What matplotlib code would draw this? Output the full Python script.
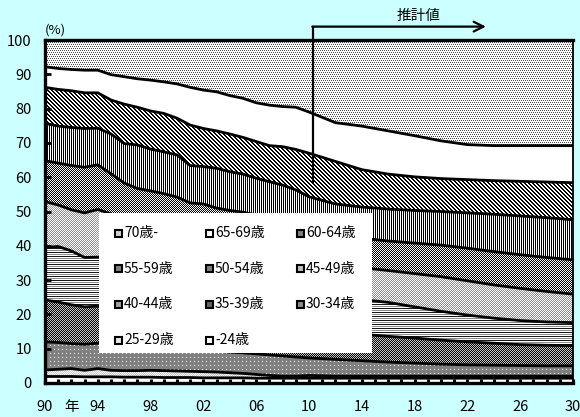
import numpy as np
import matplotlib
matplotlib.use("Agg")
import matplotlib.pyplot as plt
from matplotlib.patches import Polygon, Rectangle

plt.rcParams["font.family"] = ["Noto Sans CJK JP", "DejaVu Sans"]

# ---- data: cumulative share (%) of workers at or below each age band ----
years = list(range(1990, 2011)) + list(range(2012, 2031, 2))

upto_24 = [1.9, 1.9, 1.9, 1.8, 1.8, 1.8, 1.7, 1.7, 1.7, 1.6, 1.6, 1.6, 1.5, 1.5, 1.5,
           1.5, 1.4, 1.4, 1.4, 1.4, 1.4,
           1.4, 1.4, 1.4, 1.4, 1.4, 1.4, 1.4, 1.4, 1.4, 1.4]
upto_29 = [3.8, 4.0, 4.2, 3.7, 4.2, 3.7, 3.6, 3.6, 3.7, 3.6, 3.5, 3.4, 3.3, 3.2, 3.0,
           2.8, 2.5, 2.2, 2.0, 2.0, 2.2,
           2.0, 2.0, 2.0, 2.0, 2.0, 2.0, 2.0, 2.0, 2.0, 2.0]
upto_34 = [12.0, 11.8, 11.5, 11.3, 11.6, 11.4, 11.2, 11.0, 10.7, 10.5, 10.2, 9.9, 9.6, 9.3, 9.0,
           8.8, 8.5, 8.2, 7.9, 7.6, 7.3,
           6.9, 6.5, 6.1, 5.8, 5.5, 5.3, 5.2, 5.1, 5.0, 5.0]
upto_39 = [24.2, 23.6, 22.8, 22.2, 22.4, 22.0, 21.6, 21.2, 20.8, 20.4, 20.0, 19.6, 19.2, 18.8, 18.4,
           18.0, 17.5, 17.1, 16.7, 16.3, 15.9,
           15.0, 14.2, 13.6, 13.1, 12.5, 12.0, 11.6, 11.2, 11.0, 10.9]
upto_44 = [39.5, 39.8, 38.5, 36.6, 36.7, 36.0, 35.1, 34.2, 33.4, 32.6, 31.8, 31.0, 30.2, 29.5, 28.8,
           28.1, 27.5, 26.9, 26.3, 25.8, 25.3,
           24.8, 24.3, 23.5, 22.2, 20.9, 19.8, 18.9, 18.2, 17.8, 17.6]
upto_49 = [52.9, 51.9, 50.5, 49.6, 50.6, 49.3, 48.0, 47.0, 46.0, 45.1, 44.2, 43.2, 42.3, 41.4, 40.5,
           39.6, 38.8, 38.0, 37.2, 36.5, 35.8,
           34.6, 33.6, 32.8, 31.9, 31.0, 29.8, 28.6, 27.6, 26.7, 25.9]
upto_54 = [64.8, 64.1, 63.4, 62.9, 63.6, 61.0, 58.3, 56.7, 56.0, 55.2, 54.2, 52.5, 52.2, 51.0, 50.3,
           49.8, 49.0, 48.0, 47.2, 46.3, 45.3,
           43.6, 42.2, 41.4, 40.8, 40.2, 39.3, 38.3, 37.4, 36.6, 35.9]
upto_59 = [75.7, 74.9, 74.5, 74.2, 74.3, 72.6, 69.8, 69.4, 68.2, 67.4, 66.5, 63.4, 63.1, 62.6, 61.6,
           60.9, 59.7, 58.7, 57.7, 56.3, 54.3,
           52.2, 51.3, 50.7, 50.3, 50.0, 49.6, 49.2, 48.7, 48.2, 47.6]
upto_64 = [86.2, 85.6, 85.2, 84.6, 84.6, 82.5, 81.3, 80.4, 79.3, 78.6, 77.2, 75.2, 74.2, 73.5, 72.6,
           71.6, 70.4, 69.2, 68.9, 68.1, 67.0,
           64.6, 62.2, 60.9, 60.1, 59.6, 59.3, 59.0, 58.8, 58.6, 58.4]
upto_69 = [92.2, 91.7, 91.4, 91.2, 91.2, 89.9, 89.3, 88.7, 88.3, 87.8, 87.2, 86.2, 85.4, 84.9, 83.8,
           83.0, 81.7, 81.0, 80.6, 80.4, 79.0,
           75.9, 74.9, 73.5, 72.1, 70.6, 69.5, 69.2, 69.2, 69.2, 69.2]

age_labels = ["-24歳", "25-29歳", "30-34歳", "35-39歳", "40-44歳", "45-49歳",
              "50-54歳", "55-59歳", "60-64歳", "65-69歳", "70歳-"]

tick_years = [1990, 1992, 1994, 1998, 2002, 2006, 2010, 2014, 2018, 2022, 2026, 2030]
tick_texts = ["90", "年", "94", "98", "02", "06", "10", "14", "18", "22", "26", "30"]

projection_start = 2010.3

# ---- figure / axes geometry (pixels) ----
W, H = 580, 417
AX_L, AX_B, AX_W, AX_H = 45, 34, 528, 343
BG = "#CCFFFF"

fig = plt.figure(figsize=(W / 100, H / 100), dpi=100, facecolor=BG)
ax = fig.add_axes([AX_L / W, AX_B / H, AX_W / W, AX_H / H])
ax.patch.set_visible(False)
ax.set_xlim(1990, 2030)
ax.set_ylim(0, 100)

# ---- monochrome fill patterns, one array cell per screen pixel ----
yy, xx = np.mgrid[0:AX_H, 0:AX_W]


def pattern(kind):
    p = np.ones((AX_H, AX_W))
    if kind == "stipple":            # sparse dark dots
        p[(yy % 2 == 0) & (xx % 2 == (yy // 2) % 2)] = 0.3
    elif kind == "white":
        pass
    elif kind == "diag":
        p[((xx - yy) % 4) < 2] = 0.0
    elif kind == "vert":
        p[xx % 2 == 0] = 0.0
    elif kind == "checker_dark":
        p[(xx + yy) % 2 == 0] = 0.0
    elif kind == "checker_light":
        p[(xx + yy) % 2 == 0] = 0.55
    elif kind == "horiz":
        rows = np.array([0.1, 1.0, 0.55, 1.0])
        p = rows[yy % 4]
    elif kind == "checker_mid":
        p[:] = 0.78
        p[(xx + yy) % 2 == 0] = 0.0
    elif kind == "gray_dots":
        p[:] = 0.5
        p[(yy % 4 == 1) & (xx % 4 == 1)] = 1.0
    elif kind == "fine_light":
        p[(xx + yy) % 2 == 0] = 0.78
    return p


layer_patterns = ["white", "fine_light", "gray_dots", "checker_mid", "horiz",
                  "checker_light", "checker_dark", "vert", "diag", "white", "stipple"]

bounds = [np.zeros(len(years)), upto_24, upto_29, upto_34, upto_39, upto_44,
          upto_49, upto_54, upto_59, upto_64, upto_69, np.full(len(years), 100.0)]
bounds = [np.asarray(b, dtype=float) for b in bounds]
yrs = np.asarray(years, dtype=float)

# white under everything inside the plot frame
fig.figimage(np.ones((AX_H, AX_W)), xo=AX_L, yo=AX_B, cmap="gray",
             vmin=0, vmax=1, zorder=-3)
for i, kind in enumerate(layer_patterns):
    lo, hi = bounds[i], bounds[i + 1]
    verts = np.column_stack([np.concatenate([yrs, yrs[::-1]]),
                             np.concatenate([hi, lo[::-1]])])
    clip = Polygon(verts, closed=True, transform=ax.transData)
    im = fig.figimage(pattern(kind), xo=AX_L, yo=AX_B, origin="upper",
                      cmap="gray", vmin=0, vmax=1, zorder=-2)
    im.set_clip_path(clip)

# boundary lines between age bands
for b in bounds[1:-1]:
    ax.plot(yrs, b, color="black", lw=2.0, solid_joinstyle="round", zorder=3)

# ---- axes frame and ticks ----
for side in ("left", "bottom", "top"):
    ax.spines[side].set_linewidth(2.4)
ax.spines["right"].set_linewidth(1.3)

ax.set_yticks(range(0, 101, 10))
ax.tick_params(axis="y", direction="in", length=4, width=2, pad=9.5,
               labelsize=10.5)
ax.set_xticks(range(1990, 2031))
xt = ["" for _ in range(1990, 2031)]
for yv, tx in zip(tick_years, tick_texts):
    xt[yv - 1990] = tx
ax.set_xticklabels(xt)
ax.tick_params(axis="x", direction="in", length=3, width=2.2, pad=12,
               labelsize=10.5)

ax.text(0.0, 1.03, "(%)", transform=ax.transAxes, fontsize=9.5,
        ha="left", va="center")

# ---- projection marker ----
ax.plot([projection_start, projection_start], [58.7, 103.9], color="black",
        lw=1.6, clip_on=False, zorder=4)
ax.annotate("", xy=(2023.4, 103.9), xytext=(projection_start - 0.05, 103.9),
            arrowprops=dict(arrowstyle="->,head_length=0.7,head_width=0.35",
                            lw=1.6, color="black", shrinkA=0, shrinkB=0),
            annotation_clip=False, zorder=4)
ax.text(2018.3, 107.0, "推計値", fontsize=10.5, ha="center", va="center",
        clip_on=False)


# ---- legend box ----
def ax_x(px):
    return (px - AX_L) / AX_W


def frac_y(py):
    return (AX_B + AX_H - (H - py)) / AX_H if False else (383 - py) / AX_H


ax.add_patch(Rectangle((ax_x(99), frac_y(353)), ax_x(372) - ax_x(99),
                       frac_y(213) - frac_y(353), transform=ax.transAxes,
                       facecolor="white", edgecolor="none", zorder=5))

icon_mean = {"white": "white", "fine_light": "#e8e8e8", "gray_dots": "#8a8a8a",
             "checker_mid": "#636363", "horiz": "#a0a0a0", "checker_light": "#c0c0c0",
             "checker_dark": "#7f7f7f", "vert": "#808080", "diag": "#808080",
             "stipple": "#d0d0d0"}

legend_order = list(range(len(age_labels)))[::-1]
for k, idx in enumerate(legend_order):
    row, col = divmod(k, 3)
    cy = 233 + row * 35.7
    ix = 115 + col * 91
    ax.add_patch(Rectangle((ax_x(ix), frac_y(cy + 3.5)), 7 / AX_W, 7 / AX_H,
                           transform=ax.transAxes,
                           facecolor=icon_mean[layer_patterns[idx]],
                           edgecolor="black", lw=1.5, zorder=6))
    ax.text(ax_x(ix + 9), frac_y(cy), age_labels[idx], transform=ax.transAxes,
            fontsize=10, ha="left", va="center", zorder=7)

fig.savefig("out.png", dpi=100, facecolor=BG)
